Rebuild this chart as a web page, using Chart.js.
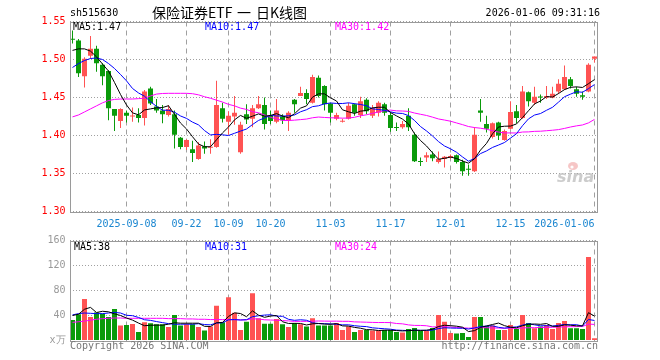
<!DOCTYPE html>
<html><head><meta charset="utf-8">
<script src="https://cdn.jsdelivr.net/npm/chart.js@4.4.1/dist/chart.umd.min.js"></script>
<style>
html,body{margin:0;padding:0;background:#fff;width:660px;height:360px;overflow:hidden}
canvas{position:absolute;left:0}
#c1{top:0}
#c2{top:230px}
</style></head><body>
<canvas id="c1" width="660" height="230"></canvas>
<canvas id="c2" width="660" height="130"></canvas>
<script>
// ---------------- data ----------------
const dates = [
'2025-08-26','2025-08-27','2025-08-28','2025-08-29',
'2025-09-01','2025-09-02','2025-09-03','2025-09-04','2025-09-05','2025-09-08','2025-09-09','2025-09-10','2025-09-11','2025-09-12',
'2025-09-15','2025-09-16','2025-09-17','2025-09-18','2025-09-19','2025-09-22','2025-09-23','2025-09-24','2025-09-25','2025-09-26',
'2025-09-29','2025-09-30',
'2025-10-09','2025-10-10','2025-10-13','2025-10-14','2025-10-15','2025-10-16','2025-10-17','2025-10-20','2025-10-21','2025-10-22',
'2025-10-23','2025-10-24','2025-10-27','2025-10-28','2025-10-29','2025-10-30','2025-10-31',
'2025-11-03','2025-11-04','2025-11-05','2025-11-06','2025-11-07','2025-11-10','2025-11-11','2025-11-12','2025-11-13','2025-11-14',
'2025-11-17','2025-11-18','2025-11-19','2025-11-20','2025-11-21','2025-11-24','2025-11-25','2025-11-26','2025-11-27','2025-11-28',
'2025-12-01','2025-12-02','2025-12-03','2025-12-04','2025-12-05','2025-12-08','2025-12-09','2025-12-10','2025-12-11','2025-12-12',
'2025-12-15','2025-12-16','2025-12-17','2025-12-18','2025-12-19','2025-12-22','2025-12-23','2025-12-24','2025-12-25','2025-12-26',
'2025-12-29','2025-12-30','2025-12-31',
'2026-01-05','2026-01-06'];

const opens  = [1.527,1.525,1.478,1.505,1.514,1.493,1.485,1.435,1.419,1.430,
                1.425,1.427,1.423,1.462,1.438,1.433,1.427,1.428,1.397,1.385,
                1.382,1.369,1.386,1.384,1.385,1.436,1.418,1.425,1.378,1.428,
                1.422,1.436,1.440,1.426,1.418,1.425,1.420,1.447,1.452,1.456,
                1.443,1.476,1.465,1.442,1.422,1.418,1.422,1.441,1.427,1.447,
                1.426,1.430,1.441,1.427,1.411,1.411,1.426,1.401,1.366,1.371,
                1.375,1.365,1.369,1.371,1.374,1.365,1.356,1.353,1.433,1.415,
                1.398,1.417,1.394,1.409,1.432,1.423,1.457,1.443,1.451,1.450,
                1.450,1.458,1.461,1.474,1.461,1.453,1.458,1.501];
const highs  = [1.538,1.527,1.503,1.531,1.518,1.495,1.486,1.435,1.436,1.433,
                1.437,1.436,1.460,1.464,1.448,1.440,1.440,1.433,1.398,1.395,
                1.393,1.391,1.392,1.395,1.472,1.443,1.432,1.452,1.418,1.441,
                1.440,1.452,1.450,1.433,1.448,1.428,1.432,1.448,1.464,1.461,
                1.480,1.479,1.466,1.443,1.430,1.422,1.443,1.442,1.451,1.449,
                1.440,1.445,1.443,1.430,1.417,1.419,1.436,1.404,1.371,1.378,
                1.379,1.379,1.373,1.375,1.375,1.368,1.362,1.411,1.448,1.426,
                1.417,1.418,1.408,1.445,1.440,1.465,1.458,1.464,1.454,1.465,
                1.464,1.474,1.492,1.477,1.464,1.458,1.495,1.504];
const lows   = [1.521,1.477,1.463,1.501,1.484,1.466,1.420,1.406,1.410,1.417,
                1.418,1.417,1.413,1.440,1.430,1.416,1.425,1.383,1.382,1.381,
                1.365,1.368,1.376,1.376,1.384,1.417,1.401,1.414,1.376,1.415,
                1.411,1.435,1.408,1.415,1.416,1.415,1.406,1.430,1.452,1.441,
                1.442,1.450,1.433,1.417,1.420,1.417,1.421,1.426,1.423,1.428,
                1.423,1.425,1.426,1.405,1.406,1.409,1.406,1.365,1.360,1.365,
                1.366,1.363,1.358,1.369,1.363,1.347,1.347,1.352,1.418,1.404,
                1.396,1.394,1.393,1.408,1.416,1.422,1.438,1.440,1.443,1.448,
                1.449,1.455,1.460,1.462,1.451,1.447,1.457,1.496];
const closes = [1.526,1.482,1.501,1.514,1.495,1.478,1.436,1.426,1.435,1.426,
                1.426,1.423,1.458,1.442,1.433,1.428,1.435,1.401,1.385,1.394,
                1.377,1.387,1.383,1.385,1.440,1.422,1.426,1.430,1.414,1.421,
                1.436,1.441,1.415,1.419,1.433,1.420,1.430,1.441,1.456,1.448,
                1.477,1.452,1.441,1.430,1.427,1.419,1.439,1.430,1.445,1.432,
                1.436,1.443,1.430,1.410,1.410,1.415,1.411,1.366,1.365,1.374,
                1.370,1.369,1.372,1.373,1.365,1.353,1.355,1.401,1.430,1.409,
                1.416,1.400,1.406,1.431,1.423,1.458,1.445,1.451,1.450,1.452,
                1.455,1.468,1.477,1.465,1.455,1.451,1.493,1.504];
const volumes = [32.9,41.9,66.3,37.6,45.0,42.9,37.6,50.4,23.9,24.9,
                 26.5,13.8,29.2,27.6,26.0,26.0,21.7,40.8,23.9,26.0,
                 26.0,21.7,15.9,22.3,55.7,29.2,69.4,44.5,17.0,30.2,
                 75.8,35.5,27.0,27.0,34.5,26.0,21.7,28.1,26.0,22.3,
                 35.5,23.9,23.9,23.9,28.1,17.0,22.3,13.8,17.0,17.0,
                 15.9,15.9,17.0,17.0,13.8,12.7,18.6,20.1,15.4,15.4,
                 20.1,40.8,30.2,12.2,11.1,12.2,5.8,37.6,37.6,23.3,
                 23.9,17.0,17.0,24.9,18.6,40.8,28.1,19.6,22.3,24.9,
                 18.6,28.1,31.3,19.6,19.6,18.6,133.6,3.7];

// moving-average values before a full window exists
const ma5Head  = [1.512,1.514,1.514,1.511];
const ma10Head = [1.4895,1.4947,1.4987,1.5013,1.502,1.500,1.4947,1.4882,1.4803];
const ma30Head = [1.4245,1.427,1.431,1.435,1.439,1.443,1.446,1.4475,1.448,1.448,
                  1.448,1.4485,1.449,1.452,1.4545,1.4553,1.4555,1.4555,1.4555,1.4555,
                  1.455,1.4535,1.451,1.449,1.4465,1.444,1.441,1.439,1.436];
const vma5Head  = [40,42,50,53];
const vma10Head = [41,43,44,43.5,43,43,44,45,44];
const vma30Head = [29,30,31,32.5,34,35,35.5,36,36,35.5,35.5,35.5,35.5,35.5,35.5,
                   35.5,35,35,35,34.5,34.5,34,34,33.5,33.5,33.5,33.5,33.5,33];

const priceMin = 1.30, priceMax = 1.55, priceStep = 0.05;
const volMin = 0, volMax = 160, volStep = 40;
const xTickDates = ['2025-09-08','2025-09-22','2025-10-09','2025-10-20','2025-11-03','2025-11-17','2025-12-01','2025-12-15','2026-01-06'];
const xTickText  = ['2025-09-08','09-22','10-09','10-20','11-03','11-17','12-01','12-15','2026-01-06'];
const mainLegend = ['MA5:1.47','MA10:1.47','MA30:1.42'];
const volLegend  = ['MA5:38','MA10:31','MA30:24'];
const volUnit = 'x万';
const code = 'sh515630';
const titleParts = ['保险证券ETF', '一', '日K线图'];
const stamp = '2026-01-06 09:31:16';
const copyright = 'Copyright 2026 SINA.COM';
const site = 'http://finance.sina.com.cn';

// ---------------- helpers ----------------
function movingAvg(src, n, head) {
  return src.map((_, i) => {
    if (i < n - 1) return head[i];
    let s = 0; for (let k = i - n + 1; k <= i; k++) s += src[k];
    return s / n;
  });
}
const RED = '#ff5353', GREEN = '#0a9a0a';
const upColors = closes.map((c, i) => (c >= opens[i] ? RED : GREEN));
const MONO = '10px "DejaVu Sans Mono", monospace';
const CJK = '14px "Noto Sans CJK SC"';
const tickIdx = new Set(xTickDates.map(d => dates.indexOf(d)));
const LEFT = 69.5, RIGHT = 597.5;

function frame(ctx, a) {
  ctx.save();
  ctx.strokeStyle = '#9a9a9a'; ctx.lineWidth = 1; ctx.setLineDash([]);
  ctx.strokeRect(70.5, Math.round(a.top) + 0.5, 527, Math.round(a.bottom) - Math.round(a.top));
  ctx.restore();
}
function text(ctx, s, x, y, color, font, align) {
  ctx.save(); ctx.font = font || MONO; ctx.fillStyle = color; ctx.textAlign = align || 'left';
  ctx.textBaseline = 'middle'; ctx.fillText(s, x, y); ctx.restore();
}

const xScale = () => ({
  type: 'category', offset: true,
  ticks: { display: false, autoSkip: false },
  grid: { display: true, offset: false, drawTicks: false, lineWidth: 1,
          color: c => tickIdx.has(c.index) ? '#a0a0a0' : 'rgba(0,0,0,0)' },
  border: { display: false, dash: [5, 4] },
  afterFit: s => { s.height = 0; }
});

// ---------------- main chart ----------------
const mainPlugin = {
  id: 'mainDeco',
  afterDraw(chart) {
    const { ctx, chartArea: a } = chart;
    frame(ctx, a);
    text(ctx, code, 70, 13, '#000');
    text(ctx, titleParts[0], 152, 13, '#000', CJK);
    text(ctx, titleParts[1], 237, 13, '#000', CJK);
    text(ctx, titleParts[2], 256, 13, '#000', CJK);
    text(ctx, stamp, 600, 13, '#000', MONO, 'right');
    text(ctx, mainLegend[0], 73, 27, '#000');
    text(ctx, mainLegend[1], 205, 27, '#0000ff');
    text(ctx, mainLegend[2], 335, 27, '#ff00ff');
    const xs = chart.scales.x;
    ctx.save(); ctx.font = MONO;
    xTickDates.forEach((d, k) => {
      const px = xs.getPixelForValue(dates.indexOf(d));
      const w = ctx.measureText(xTickText[k]).width;
      const align = (px + w / 2 > a.right - 2) ? 'right' : 'center';
      text(ctx, xTickText[k], px, 224, '#1a86d0', MONO, align);
    });
    ctx.restore();
    // sina watermark
    ctx.save();
    ctx.fillStyle = 'rgba(240,160,160,0.6)';
    ctx.beginPath(); ctx.ellipse(573, 166, 5, 4, 0, 0, Math.PI * 2); ctx.fill();
    ctx.fillStyle = '#fff'; ctx.beginPath(); ctx.arc(572, 167, 1.6, 0, Math.PI * 2); ctx.fill();
    ctx.font = 'italic bold 16px "DejaVu Sans"'; ctx.fillStyle = 'rgba(195,195,195,0.85)';
    ctx.textBaseline = 'alphabetic'; ctx.fillText('sina', 557, 182);
    ctx.restore();
  }
};

new Chart(document.getElementById('c1'), {
  type: 'bar',
  data: {
    labels: dates,
    datasets: [
      { type: 'line', label: 'MA5', data: movingAvg(closes, 5, ma5Head), borderColor: '#000', borderWidth: 1, pointRadius: 0, tension: 0, order: 0 },
      { type: 'line', label: 'MA10', data: movingAvg(closes, 10, ma10Head), borderColor: '#0000ff', borderWidth: 1, pointRadius: 0, tension: 0, order: 0 },
      { type: 'line', label: 'MA30', data: movingAvg(closes, 30, ma30Head), borderColor: '#ff00ff', borderWidth: 1, pointRadius: 0, tension: 0, order: 0 },
      { label: 'body', data: opens.map((o, i) => [o, closes[i]]), backgroundColor: upColors, barThickness: 5, grouped: false, minBarLength: 1, borderWidth: 0, inflateAmount: 0, order: 1 },
      { label: 'wick', data: lows.map((l, i) => [l, highs[i]]), backgroundColor: upColors, barThickness: 1, grouped: false, borderWidth: 0, inflateAmount: 0, order: 2 }
    ]
  },
  options: {
    responsive: false, animation: false, devicePixelRatio: 1,
    layout: { padding: { left: 0, top: 21.5, right: 660 - RIGHT, bottom: 230 - 211.5 } },
    plugins: { legend: { display: false }, tooltip: { enabled: false } },
    scales: {
      x: xScale(),
      y: {
        min: priceMin, max: priceMax,
        ticks: { stepSize: priceStep, color: '#ff0000', font: { family: '"DejaVu Sans Mono", monospace', size: 10 }, padding: 4,
                 callback: v => Number(v).toFixed(2) },
        grid: { color: '#a0a0a0', drawTicks: false, lineWidth: 1 },
        border: { display: false, dash: [1, 2] },
        afterFit: s => { s.width = LEFT; }
      }
    }
  },
  plugins: [mainPlugin]
});

// ---------------- volume chart ----------------
const volPlugin = {
  id: 'volDeco',
  afterDraw(chart) {
    const { ctx, chartArea: a } = chart;
    frame(ctx, a);
    text(ctx, volLegend[0], 74, 17, '#000');
    text(ctx, volLegend[1], 205, 17, '#0000ff');
    text(ctx, volLegend[2], 335, 17, '#ff00ff');
    text(ctx, copyright, 70, 116, '#777');
    text(ctx, site, 598, 116, '#777', MONO, 'right');
  }
};

new Chart(document.getElementById('c2'), {
  type: 'bar',
  data: {
    labels: dates,
    datasets: [
      { type: 'line', label: 'VMA5', data: movingAvg(volumes, 5, vma5Head), borderColor: '#000', borderWidth: 1, pointRadius: 0, tension: 0, order: 0 },
      { type: 'line', label: 'VMA10', data: movingAvg(volumes, 10, vma10Head), borderColor: '#0000ff', borderWidth: 1, pointRadius: 0, tension: 0, order: 0 },
      { type: 'line', label: 'VMA30', data: movingAvg(volumes, 30, vma30Head), borderColor: '#ff00ff', borderWidth: 1, pointRadius: 0, tension: 0, order: 0 },
      { label: 'vol', data: volumes, backgroundColor: upColors, barThickness: 5, grouped: false, borderWidth: 0, inflateAmount: 0, order: 1 }
    ]
  },
  options: {
    responsive: false, animation: false, devicePixelRatio: 1,
    layout: { padding: { left: 0, top: 10.5, right: 660 - RIGHT, bottom: 130 - 110.5 } },
    plugins: { legend: { display: false }, tooltip: { enabled: false } },
    scales: {
      x: xScale(),
      y: {
        min: volMin, max: volMax,
        ticks: { stepSize: volStep, color: '#999999', font: { family: '"DejaVu Sans Mono", monospace', size: 10 }, padding: 4,
                 callback: v => (v === 0 ? volUnit : String(v)) },
        grid: { color: c => (c.tick && c.tick.value === volMin) ? 'rgba(0,0,0,0)' : '#a0a0a0', drawTicks: false, lineWidth: 1 },
        border: { display: false, dash: [1, 2] },
        afterFit: s => { s.width = LEFT; }
      }
    }
  },
  plugins: [volPlugin]
});
</script>
</body></html>
